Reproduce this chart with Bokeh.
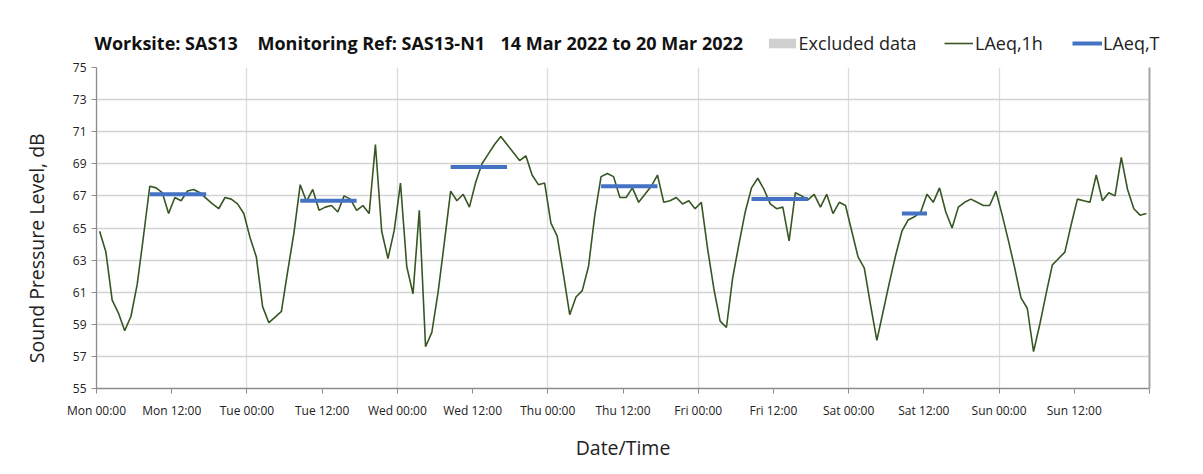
from bokeh.plotting import figure
from bokeh.layouts import column
from bokeh.models import (Range1d, FixedTicker, LinearAxis, Legend,
                          LegendItem, ColumnDataSource)
from bokeh.core.properties import value
from bokeh.embed import file_html
from bokeh.resources import INLINE

# ---------------- data ----------------
hours = list(range(168))  # hourly index from Mon 14 Mar 2022 00:00
laeq_1h = [
    # Mon
    64.8, 63.5, 60.5, 59.7, 58.6, 59.5, 61.5, 64.5, 67.6, 67.5, 67.2, 65.9,
    66.9, 66.7, 67.3, 67.4, 67.2, 66.85, 66.5, 66.2, 66.9, 66.8, 66.5, 65.9,
    # Tue
    64.4, 63.2, 60.1, 59.1, 59.45, 59.8, 62.3, 64.7, 67.7, 66.65, 67.4, 66.1,
    66.3, 66.4, 66.0, 67.0, 66.8, 66.1, 66.4, 65.9, 70.2, 64.8, 63.1, 64.85,
    # Wed
    67.8, 62.6, 60.9, 66.1, 57.6, 58.5, 61.0, 64.1, 67.3, 66.7, 67.1, 66.3,
    67.85, 69.0, 69.6, 70.2, 70.7, 70.2, 69.7, 69.2, 69.5, 68.3, 67.7, 67.8,
    # Thu
    65.3, 64.5, 62.1, 59.6, 60.7, 61.1, 62.6, 65.8, 68.2, 68.4, 68.2, 66.9,
    66.9, 67.5, 66.6, 67.1, 67.6, 68.3, 66.6, 66.7, 66.9, 66.5, 66.7, 66.2,
    # Fri
    66.6, 63.7, 61.2, 59.2, 58.8, 61.9, 64.0, 66.0, 67.5, 68.1, 67.4, 66.5,
    66.2, 66.3, 64.2, 67.2, 67.0, 66.75, 67.1, 66.3, 67.1, 65.9, 66.6, 66.4,
    # Sat
    64.8, 63.2, 62.5, 60.2, 58.0, 59.8, 61.6, 63.3, 64.8, 65.5, 65.7, 66.0,
    67.1, 66.6, 67.5, 66.0, 65.0, 66.3, 66.6, 66.8, 66.6, 66.4, 66.4, 67.3,
    # Sun
    65.8, 64.2, 62.5, 60.65, 60.0, 57.3, 59.0, 60.9, 62.7, 63.1, 63.5, 65.2,
    66.8, 66.7, 66.6, 68.3, 66.7, 67.2, 67.0, 69.4, 67.4, 66.2, 65.8, 65.9,
]

period_start_h = [8, 32, 56, 80, 104, 128]
period_end_h = [17, 41, 65, 89, 113, 132]
laeq_t = [67.1, 66.7, 68.8, 67.6, 66.8, 65.9]

tick_hours = [0, 12, 24, 36, 48, 60, 72, 84, 96, 108, 120, 132, 144, 156, 168]
tick_labels = ["Mon 00:00", "Mon 12:00", "Tue 00:00", "Tue 12:00", "Wed 00:00",
               "Wed 12:00", "Thu 00:00", "Thu 12:00", "Fri 00:00", "Fri 12:00",
               "Sat 00:00", "Sat 12:00", "Sun 00:00", "Sun 12:00", ""]
day_lines_h = [24, 48, 72, 96, 120, 144]
y_ticks = [55, 57, 59, 61, 63, 65, 67, 69, 71, 73, 75]

title_parts = ["Worksite: SAS13", "Monitoring Ref: SAS13-N1",
               "14 Mar 2022 to 20 Mar 2022"]
legend_labels = ["Excluded data", "LAeq,1h", "LAeq,T"]

FONT = "Open Sans"
GREEN = "#375623"
BLUE = "#4472C4"
GREY = "#D0D0D0"
TEXT = "#222222"

W = 1200
TOP_H = 56

src = ColumnDataSource(dict(x=[h + 0.5 for h in hours], y=laeq_1h))
seg_src = ColumnDataSource(dict(x0=[h + 0.5 for h in period_start_h],
                                x1=[h + 0.5 for h in period_end_h],
                                y=laeq_t))

# ---------------- header (title + legend) ----------------
head = figure(width=W, height=TOP_H, output_backend="svg", toolbar_location=None,
              x_range=Range1d(0, W), y_range=Range1d(TOP_H, 0),
              x_axis_location=None, y_axis_location=None,
              min_border=0, min_border_left=0, min_border_right=0,
              min_border_top=0, min_border_bottom=0)
try:
    head.frame_align = False
except Exception:
    pass
head.outline_line_color = None
head.grid.visible = False
head.background_fill_color = "white"
head.border_fill_color = "white"

head.text(x=[94, 257, 500], y=[42, 42, 42], text=title_parts,
          text_font=value(FONT), text_font_size="18px",
          text_font_style="bold", text_baseline="middle", text_color="#111111")

# legend proxies: they share the chart's data, which lies outside this
# header's y-range, so only their legend swatches are seen
h_ex = head.vbar(x="x", top="y", bottom="y", width=0, source=src,
                 fill_color=GREY, line_color=None)
h_line = head.line("x", "y", source=src, line_color=GREEN, line_width=1.6)
h_seg = head.segment(x0="x0", x1="x1", y0="y", y1="y", source=seg_src,
                     line_color=BLUE, line_width=4)

leg_specs = [(legend_labels[0], h_ex, 764.6, 34, 12, 0),
             (legend_labels[1], h_line, 944, 29, 12, 2),
             (legend_labels[2], h_seg, 1072, 30, 12, 1)]
for label, rend, lx, gw, gh, stand in leg_specs:
    leg = Legend(items=[LegendItem(label=label, renderers=[rend])],
                 location=(lx, 1), orientation="horizontal",
                 glyph_width=gw, glyph_height=gh, label_standoff=stand,
                 label_height=24, padding=0, margin=0, spacing=0,
                 border_line_color=None, background_fill_alpha=0,
                 label_text_font=FONT, label_text_font_size="18px",
                 label_text_color=TEXT)
    head.add_layout(leg, "center")

# ---------------- main chart ----------------
p = figure(width=W, height=416, output_backend="svg", toolbar_location=None,
           x_range=Range1d(0, 168), y_range=Range1d(55, 75),
           min_border_left=96, min_border_right=51, min_border_top=11,
           min_border_bottom=84)
p.outline_line_color = None
p.background_fill_color = "white"
p.border_fill_color = "white"

p.xaxis.ticker = FixedTicker(ticks=tick_hours)
p.xaxis.major_label_overrides = {h: lab for h, lab in zip(tick_hours, tick_labels)}
p.xaxis.minor_tick_line_color = None
p.xaxis.major_tick_out = 5
p.xaxis.major_tick_in = 0
p.xaxis.major_label_standoff = 8
p.xaxis.axis_label = "Date/Time"
p.xaxis.axis_label_standoff = 12

p.yaxis.ticker = FixedTicker(ticks=y_ticks)
p.yaxis.minor_tick_line_color = None
p.yaxis.major_tick_out = 5
p.yaxis.major_tick_in = 0
p.yaxis.major_label_standoff = 5
# trailing no-break spaces nudge the centred label down, as in the original
p.yaxis.axis_label = "Sound Pressure Level, dB" + "\u00a0" * 8
p.yaxis.axis_label_standoff = 20

for ax in (p.xaxis, p.yaxis):
    ax.axis_line_color = "#8c8c8c"
    ax.axis_line_width = 1.3
    ax.major_tick_line_color = "#8c8c8c"
    ax.major_label_text_font = FONT
    ax.major_label_text_font_size = "12px"
    ax.major_label_text_color = TEXT
    ax.axis_label_text_font = FONT
    ax.axis_label_text_font_size = "19.5px"
    ax.axis_label_text_font_style = "normal"
    ax.axis_label_text_color = TEXT

right_ax = LinearAxis(ticker=FixedTicker(ticks=[]), axis_line_color="#a6a6a6",
                      axis_line_width=2, major_tick_line_color=None,
                      minor_tick_line_color=None, major_label_text_color=None)
p.add_layout(right_ax, "right")

p.ygrid.ticker = FixedTicker(ticks=y_ticks[1:])
p.ygrid.grid_line_color = "#d4d4d4"
p.ygrid.grid_line_width = 1.3
p.xgrid.ticker = FixedTicker(ticks=day_lines_h)
p.xgrid.grid_line_color = "#dcdcdc"
p.xgrid.grid_line_width = 1.3

p.line("x", "y", source=src, line_color=GREEN, line_width=1.6)
p.segment(x0="x0", x1="x1", y0="y", y1="y", source=seg_src,
          line_color=BLUE, line_width=4)

layout = column(head, p, spacing=0)
open("out.html", "w").write(file_html(layout, INLINE))
